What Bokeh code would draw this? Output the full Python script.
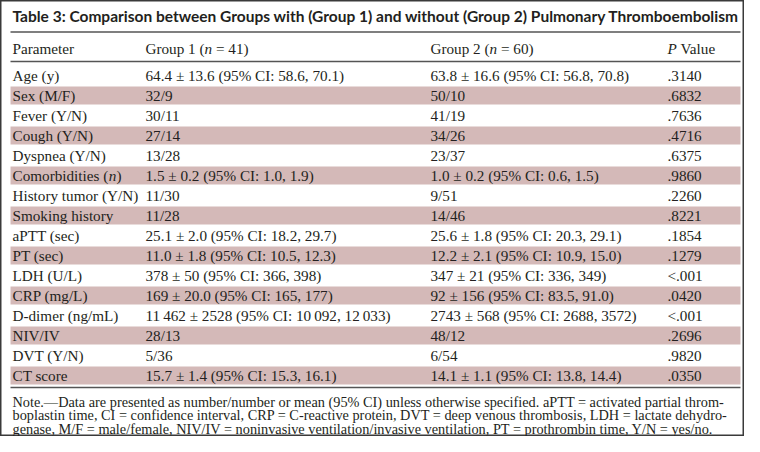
from bokeh.plotting import figure
from bokeh.models import ColumnDataSource, Range1d
from bokeh.core.properties import value
from bokeh.embed import file_html
from bokeh.resources import INLINE

title = "Table 3: Comparison between Groups with (Group 1) and without (Group 2) Pulmonary Thromboembolism"

params = ["Age (y)", "Sex (M/F)", "Fever (Y/N)", "Cough (Y/N)", "Dyspnea (Y/N)",
          "Comorbidities (", "History tumor (Y/N)", "Smoking history", "aPTT (sec)",
          "PT (sec)", "LDH (U/L)", "CRP (mg/L)", "D-dimer (ng/mL)", "NIV/IV",
          "DVT (Y/N)", "CT score"]

group1 = ["64.4 \u00b1 13.6 (95% CI: 58.6, 70.1)", "32/9", "30/11", "27/14", "13/28",
          "1.5 \u00b1 0.2 (95% CI: 1.0, 1.9)", "11/30", "11/28",
          "25.1 \u00b1 2.0 (95% CI: 18.2, 29.7)", "11.0 \u00b1 1.8 (95% CI: 10.5, 12.3)",
          "378 \u00b1 50 (95% CI: 366, 398)", "169 \u00b1 20.0 (95% CI: 165, 177)",
          "11\u2009462 \u00b1 2528 (95% CI: 10\u2009092, 12\u2009033)", "28/13", "5/36",
          "15.7 \u00b1 1.4 (95% CI: 15.3, 16.1)"]

group2 = ["63.8 \u00b1 16.6 (95% CI: 56.8, 70.8)", "50/10", "41/19", "34/26", "23/37",
          "1.0 \u00b1 0.2 (95% CI: 0.6, 1.5)", "9/51", "14/46",
          "25.6 \u00b1 1.8 (95% CI: 20.3, 29.1)", "12.2 \u00b1 2.1 (95% CI: 10.9, 15.0)",
          "347 \u00b1 21 (95% CI: 336, 349)", "92 \u00b1 156 (95% CI: 83.5, 91.0)",
          "2743 \u00b1 568 (95% CI: 2688, 3572)", "48/12", "6/54",
          "14.1 \u00b1 1.1 (95% CI: 13.8, 14.4)"]

pvals = [".3140", ".6832", ".7636", ".4716", ".6375", ".9860", ".2260", ".8221",
         ".1854", ".1279", "<.001", ".0420", "<.001", ".2696", ".9820", ".0350"]

notes = [
    "Note.\u2014Data are presented as number/number or mean (95% CI) unless otherwise specified. aPTT = activated partial throm-",
    "boplastin time, CI = confidence interval, CRP = C-reactive protein, DVT = deep venous thrombosis, LDH = lactate dehydro-",
    "genase, M/F = male/female, NIV/IV = noninvasive ventilation/invasive ventilation, PT = prothrombin time, Y/N = yes/no.",
]

W, H = 744, 436
TXT = "#231f20"
BAND = "#d4b9b8"
LINE = "#555555"
SERIF = value("Liberation Serif")
FSN = 15.2
FS = value(f"{FSN}px")
NB = "\u00a0"

p = figure(width=W, height=H, x_range=Range1d(0, W), y_range=Range1d(H, 0),
           x_axis_type=None, y_axis_type=None, output_backend="svg",
           toolbar_location=None, min_border=0)
p.grid.visible = False
p.outline_line_color = "#3a3a3a"
p.outline_line_width = 2
p.background_fill_color = "white"
p.border_fill_color = "white"

ROW0, PITCH = 75, 20
n = len(params)
ys = [ROW0 + PITCH * i for i in range(n)]

# shaded bands
band_y = [ys[i] for i in range(n) if i % 2 == 1]
p.quad(left=10, right=740, top=[y - 9 for y in band_y], bottom=[y + 9 for y in band_y],
       fill_color=BAND, line_color=None)

# rules
p.segment(x0=[10, 10, 10], x1=[740, 740, 740], y0=[31.5, 61, 387], y1=[31.5, 61, 387],
          line_color=LINE, line_width=1.3)

# title
p.text(x=[12], y=[15], text=[title], text_font=value("Lato"), text_font_style="bold",
       text_font_size=value("15.5px"), text_color=TXT, text_baseline="middle")

# headers
XP, XG1, XG2, XPV = 12, 145, 430, 667
IT = 3.888 * FSN  # width of "Group 1 ("
NW = 0.5 * FSN    # width of italic n
hdr = dict(text_font=SERIF, text_font_size=FS, text_color=TXT, text_baseline="middle")
ital = dict(text_font=SERIF, text_font_size=FS, text_color=TXT, text_baseline="middle",
            text_font_style="italic")
HY = 48
p.text(x=[XP], y=[HY], text=["Parameter"], **hdr)
p.text(x=[XG1, XG2], y=[HY, HY], text=["Group 1 (", "Group 2 ("], **hdr)
p.text(x=[XG1 + IT, XG2 + IT], y=[HY, HY], text=["n", "n"], **ital)
p.text(x=[XG1 + IT + NW, XG2 + IT + NW], y=[HY, HY],
       text=[NB + "=" + NB + "41)", NB + "=" + NB + "60)"], **hdr)
p.text(x=[XPV], y=[HY], text=["P"], **ital)
p.text(x=[XPV + 0.611 * FSN], y=[HY], text=[NB + "Value"], **hdr)

# body
src = ColumnDataSource(dict(y=ys, par=params, g1=group1, g2=group2, pv=pvals))
p.text(x=XP, y="y", text="par", source=src, **hdr)
p.text(x=XG1, y="y", text="g1", source=src, **hdr)
p.text(x=XG2, y="y", text="g2", source=src, **hdr)
p.text(x=XPV, y="y", text="pv", source=src, **hdr)
# italic n in "Comorbidities (n)"
ci = 5
CW = 6.336 * FSN
p.text(x=[XP + CW], y=[ys[ci]], text=["n"], **ital)
p.text(x=[XP + CW + NW], y=[ys[ci]], text=[")"], **hdr)

# notes
p.text(x=[12] * 3, y=[401, 414.5, 428], text=notes, text_font=SERIF,
       text_font_size=value("14.3px"), text_color=TXT, text_baseline="middle")

open("out.html", "w").write(file_html(p, INLINE))
